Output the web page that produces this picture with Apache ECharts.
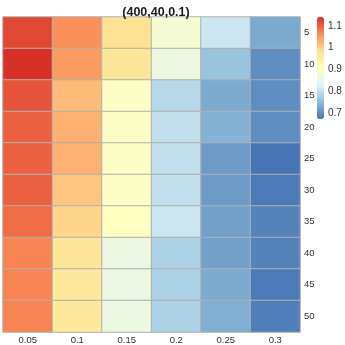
<!DOCTYPE html>
<html>
<head>
<meta charset="utf-8">
<script src="https://cdn.jsdelivr.net/npm/echarts@6/dist/echarts.min.js"></script>
<style>
  html, body { margin: 0; padding: 0; background: #fff; }
  #chart { width: 345px; height: 345px; }
</style>
</head>
<body>
<div id="chart"></div>
<script>
// columns (x) and rows (y)
const xCats = ['0.05', '0.1', '0.15', '0.2', '0.25', '0.3']
const yCats = ['5', '10', '15', '20', '25', '30', '35', '40', '45', '50']

// one array per row
const row5  = [1.12, 1.06, 0.98, 0.88, 0.81, 0.73]
const row10 = [1.14, 1.05, 0.97, 0.86, 0.76, 0.70]
const row15 = [1.11, 1.02, 0.90, 0.79, 0.73, 0.70]
const row20 = [1.10, 1.03, 0.90, 0.80, 0.74, 0.70]
const row25 = [1.10, 1.03, 0.90, 0.80, 0.715, 0.675]
const row30 = [1.10, 1.01, 0.90, 0.80, 0.715, 0.68]
const row35 = [1.09, 0.995, 0.905, 0.81, 0.72, 0.69]
const row40 = [1.07, 0.97, 0.86, 0.78, 0.72, 0.69]
const row45 = [1.07, 0.965, 0.86, 0.78, 0.73, 0.68]
const row50 = [1.07, 0.965, 0.86, 0.78, 0.735, 0.685]
const rows = [row5, row10, row15, row20, row25, row30, row35, row40, row45, row50]

// colour scale limits and legend ticks
const VMIN = 0.675
const VMAX = 1.14
const legendTicks = [0.7, 0.8, 0.9, 1, 1.1]
const PALETTE = ['#4575b4', '#91bfdb', '#e0f3f8', '#ffffbf', '#fee090', '#fc8d59', '#d73027']

const cells = []
rows.forEach((r, yi) => r.forEach((v, xi) => cells.push([xi, yi, v])))

// colour bar geometry (px)
const BAR_TOP = 17, BAR_H = 102, BAR_LEFT = 317, BAR_W = 7
const pxPerUnit = BAR_H / (VMAX - VMIN)
const tickLo = legendTicks[0], tickHi = legendTicks[legendTicks.length - 1]

const chart = echarts.init(document.getElementById('chart'))
chart.setOption({
  animation: false,
  title: {
    text: '(400,40,0.1)',
    left: 151, top: 1,
    textAlign: 'center',
    textStyle: { fontSize: 12.5, fontWeight: 'bold', color: '#1a1a1a', fontFamily: 'Liberation Sans' },
  },
  grid: [
    { left: 3, top: 17, right: 45, bottom: 12 },
    // grid that only carries the colour bar's tick labels, spanning tickLo..tickHi
    {
      left: BAR_LEFT, width: BAR_W,
      top: BAR_TOP + (VMAX - tickHi) * pxPerUnit,
      height: (tickHi - tickLo) * pxPerUnit,
    },
  ],
  xAxis: [
    {
      type: 'category', data: xCats, gridIndex: 0,
      axisLine: { show: false }, axisTick: { show: false },
      axisLabel: { color: '#333', fontSize: 9.5, margin: 3, fontFamily: 'Liberation Sans' },
    },
    { type: 'value', gridIndex: 1, show: false },
  ],
  yAxis: [
    {
      type: 'category', data: yCats, gridIndex: 0, inverse: true, position: 'right',
      axisLine: { show: false }, axisTick: { show: false },
      axisLabel: { color: '#333', fontSize: 9.5, margin: 4, fontFamily: 'Liberation Sans' },
    },
    {
      type: 'value', gridIndex: 1, position: 'right', min: tickLo, max: tickHi,
      interval: 0.1,
      axisLine: { show: false }, axisTick: { show: false }, splitLine: { show: false },
      axisLabel: {
        color: '#333', fontSize: 10, margin: 4, fontFamily: 'Liberation Sans',
        formatter: v => String(Math.round(v * 10) / 10),
      },
    },
  ],
  visualMap: {
    type: 'continuous',
    min: VMIN, max: VMAX,
    seriesIndex: 0,
    calculable: false,
    orient: 'vertical',
    left: BAR_LEFT, top: BAR_TOP,
    padding: 0,
    itemWidth: BAR_W, itemHeight: BAR_H,
    inRange: { color: PALETTE },
  },
  series: [{
    type: 'heatmap',
    xAxisIndex: 0, yAxisIndex: 0,
    data: cells,
    itemStyle: { borderColor: '#b0b0b0', borderWidth: 1 },
    emphasis: { disabled: true },
  }],
})
</script>
</body>
</html>
